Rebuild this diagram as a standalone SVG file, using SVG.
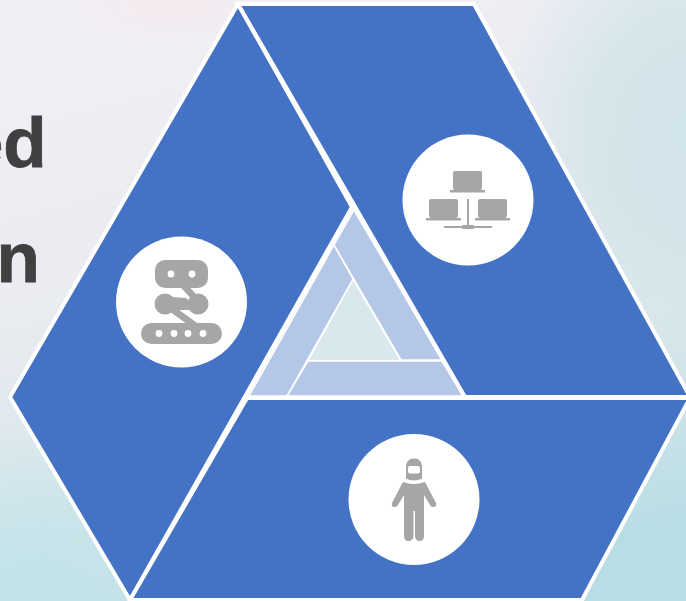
<svg xmlns="http://www.w3.org/2000/svg" width="686" height="601" viewBox="0 0 686 601">
<defs>
<linearGradient id="bg" x1="0.25" y1="0" x2="0.55" y2="1"><stop offset="0" stop-color="#f0eff5"/><stop offset="0.4" stop-color="#eaecf1"/><stop offset="0.68" stop-color="#dbe8ec"/><stop offset="1" stop-color="#b9dde5"/></linearGradient>
<radialGradient id="pink" cx="0.5" cy="0.5" r="0.5"><stop offset="0" stop-color="#f7e9ed" stop-opacity="0.8"/><stop offset="1" stop-color="#f7e9ed" stop-opacity="0"/></radialGradient>
<radialGradient id="teal" cx="0.5" cy="0.5" r="0.5"><stop offset="0" stop-color="#d2e5ea" stop-opacity="1"/><stop offset="0.5" stop-color="#d2e5ea" stop-opacity="0.85"/><stop offset="1" stop-color="#d2e5ea" stop-opacity="0"/></radialGradient>
<radialGradient id="teal2" cx="0.5" cy="0.5" r="0.5"><stop offset="0" stop-color="#c2e4ea" stop-opacity="1"/><stop offset="1" stop-color="#c2e4ea" stop-opacity="0"/></radialGradient>
</defs>
<style>
.panel{fill:#4472c4;stroke:#fff;stroke-width:4;stroke-linejoin:miter}
.inner{fill:#b4c7e7;stroke:#fff;stroke-width:1.5}
.disc{fill:#fff}
.g{fill:#a6a6a6}
.gl{stroke:#a6a6a6;fill:none}
.w{fill:#fff}
.t{font-family:"Liberation Sans",Arial,sans-serif;font-weight:700;font-size:71px;fill:#404040;stroke:#404040;stroke-width:0.8}
</style>
<rect width="686" height="601" fill="url(#bg)"/>
<ellipse cx="170" cy="5" rx="110" ry="40" fill="url(#pink)"/>
<ellipse cx="30" cy="590" rx="170" ry="170" fill="url(#teal2)"/>
<ellipse cx="690" cy="130" rx="190" ry="230" fill="url(#teal)"/>
<g id="labels">
<text class="t" x="46.500" y="166.500" text-anchor="end">ed</text>
<text class="t" x="-3.500" y="282">n</text>
</g>
<g id="center">
<path d="M353 279L308 361H401Z" fill="#d9e8ec" stroke="#fff" stroke-width="1.5"/>
<path class="inner" d="M334 245L249 396H287L353 279Z"/>
<path class="inner" d="M354 210L334 245L401 360H442Z"/>
<path class="inner" d="M308 361H442L463 396H287Z"/>
</g>
<g id="panel-left">
<path class="panel" d="M238 4L10 397L130 600L352 207Z"/>
<circle class="disc" cx="181.500" cy="302" r="65.500"/>
<g>
<rect class="g" x="155" y="260" width="53" height="28" rx="10"/>
<circle class="w" cx="171" cy="274" r="3.400"/><circle class="w" cx="192" cy="274" r="3.400"/>
<circle class="g" cx="165" cy="304" r="10.500"/><circle class="g" cx="198" cy="304" r="10.500"/>
<path class="g" d="M172 297L186 298L198 310L172 310Z"/>
<path class="gl" stroke-width="7" d="M184 286L196 299"/>
<path class="gl" stroke-width="7" d="M172 309L197 327"/>
<rect class="g" x="141" y="323" width="81" height="21" rx="10.500"/>
<circle class="w" cx="159" cy="333.500" r="3.400"/><circle class="w" cx="174" cy="333.500" r="3.400"/><circle class="w" cx="188" cy="333.500" r="3.400"/><circle class="w" cx="203" cy="333.500" r="3.400"/>
</g>
</g>
<g id="panel-right">
<path class="panel" d="M238 4H474L690 397H465Z"/>
<circle class="disc" cx="468" cy="200" r="65.500"/>
<g>
<rect class="g" x="453" y="171" width="29" height="19" rx="2"/>
<rect class="g" x="450" y="190" width="35" height="2.500"/>
<rect class="g" x="429" y="199" width="29" height="19" rx="2"/>
<rect class="g" x="426" y="218" width="35" height="2.500"/>
<rect class="g" x="478" y="199" width="29" height="19" rx="2"/>
<rect class="g" x="475" y="218" width="35" height="2.500"/>
<rect class="g" x="467" y="199" width="2" height="27"/>
<rect class="g" x="444" y="226" width="48" height="2"/>
<rect class="g" x="462" y="225" width="12" height="4" rx="1"/>
</g>
</g>
<g id="panel-bottom">
<path class="panel" d="M247 398H690L582 600H130Z"/>
<circle class="disc" cx="414" cy="499.500" r="65.500"/>
<g>
<path class="g" d="M403 482Q414 486 425 482L436 503Q437 507 433 507Q431 507 430 505L424 495V536Q424 541 419.500 541Q415.500 541 415 536V511H413.500V536Q413 541 408.500 541Q404 541 404 536V495L398 505Q397 507 395 507Q391 507 392 503Z"/>
<path class="g" d="M405.500 468C405.500 461 409 458 414 458C419 458 422.500 461 422.500 468V479Q414 483 405.500 479Z" stroke="#fff" stroke-width="1"/>
<rect class="w" x="408" y="466" width="12" height="7.500" rx="2"/>
</g>
</g>
</svg>
